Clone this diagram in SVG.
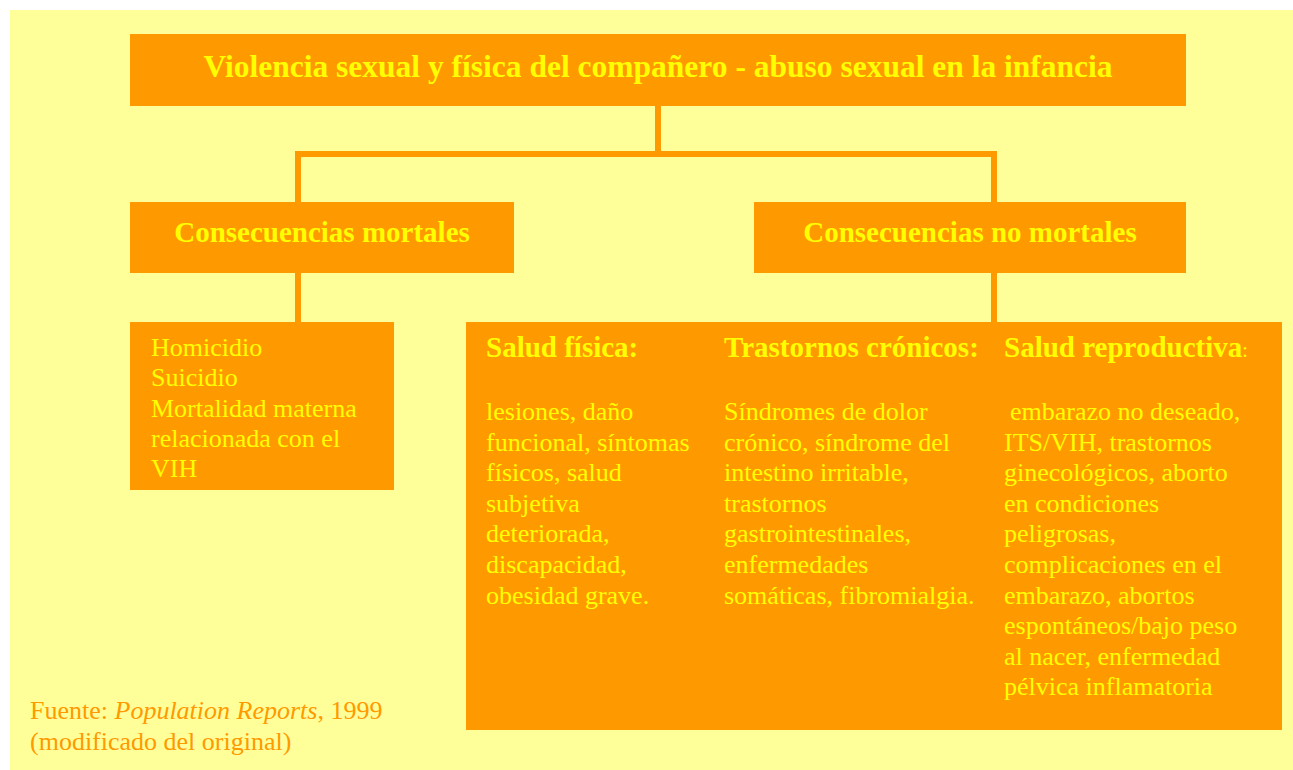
<svg xmlns="http://www.w3.org/2000/svg" width="1293" height="770" viewBox="0 0 1293 770">
<style>
.box{fill:#FF9900}
.h{font-family:"Liberation Serif","Times New Roman",serif;font-weight:bold;fill:#FFFF00}
.t{font-family:"Liberation Serif","Times New Roman",serif;font-size:26px;fill:#FFFF00}
.src{font-family:"Liberation Serif","Times New Roman",serif;font-size:26px;fill:#FF9900}
.c{stroke:#FF9900;stroke-width:6;fill:none}
</style>
<rect x="10" y="10" width="1283" height="760" fill="#FFFF99"/>
<g id="connectors">
<path class="c" d="M658 105 V154 M298 154 H994 M298 151 V203 M994 151 V203 M298 272 V323 M994 272 V323"/>
</g>
<g id="top">
<rect class="box" x="130" y="34" width="1056" height="72"/>
<text class="h" x="658" y="77" font-size="31.5" text-anchor="middle">Violencia sexual y física del compañero - abuso sexual en la infancia</text>
</g>
<g id="mortales">
<rect class="box" x="130" y="202" width="384" height="71"/>
<text class="h" x="322" y="242" font-size="29" text-anchor="middle">Consecuencias mortales</text>
</g>
<g id="nomortales">
<rect class="box" x="754" y="202" width="432" height="71"/>
<text class="h" x="970" y="242" font-size="29" text-anchor="middle">Consecuencias no mortales</text>
</g>
<g id="mortales-list">
<rect class="box" x="130" y="322" width="264" height="168"/>
<text class="t" x="151" y="356">Homicidio</text>
<text class="t" x="151" y="386.3">Suicidio</text>
<text class="t" x="151" y="416.6">Mortalidad materna</text>
<text class="t" x="151" y="446.9">relacionada con el</text>
<text class="t" x="151" y="477.2">VIH</text>
</g>
<g id="nomortales-list">
<rect class="box" x="466" y="322" width="816" height="408"/>
<text class="h" x="486" y="357" font-size="29">Salud física:</text>
<text class="t" x="486" y="420">lesiones, daño</text>
<text class="t" x="486" y="450.6">funcional, síntomas</text>
<text class="t" x="486" y="481.2">físicos, salud</text>
<text class="t" x="486" y="511.8">subjetiva</text>
<text class="t" x="486" y="542.4">deteriorada,</text>
<text class="t" x="486" y="573">discapacidad,</text>
<text class="t" x="486" y="603.6">obesidad grave.</text>
<text class="h" x="724" y="357" font-size="29">Trastornos crónicos:</text>
<text class="t" x="724" y="420">Síndromes de dolor</text>
<text class="t" x="724" y="450.6">crónico, síndrome del</text>
<text class="t" x="724" y="481.2">intestino irritable,</text>
<text class="t" x="724" y="511.8">trastornos</text>
<text class="t" x="724" y="542.4">gastrointestinales,</text>
<text class="t" x="724" y="573">enfermedades</text>
<text class="t" x="724" y="603.6">somáticas, fibromialgia.</text>
<text class="h" x="1004" y="357" font-size="29">Salud reproductiva<tspan font-weight="normal" font-size="20">:</tspan></text>
<text class="t" x="1010" y="420">embarazo no deseado,</text>
<text class="t" x="1004" y="450.6">ITS/VIH, trastornos</text>
<text class="t" x="1004" y="481.2">ginecológicos, aborto</text>
<text class="t" x="1004" y="511.8">en condiciones</text>
<text class="t" x="1004" y="542.4">peligrosas,</text>
<text class="t" x="1004" y="573">complicaciones en el</text>
<text class="t" x="1004" y="603.6">embarazo, abortos</text>
<text class="t" x="1004" y="634.2">espontáneos/bajo peso</text>
<text class="t" x="1004" y="664.8">al nacer, enfermedad</text>
<text class="t" x="1004" y="695.4">pélvica inflamatoria</text>
</g>
<g id="source">
<text class="src" x="30" y="719">Fuente: <tspan font-style="italic">Population Reports</tspan>, 1999</text>
<text class="src" x="30" y="750">(modificado del original)</text>
</g>
</svg>
